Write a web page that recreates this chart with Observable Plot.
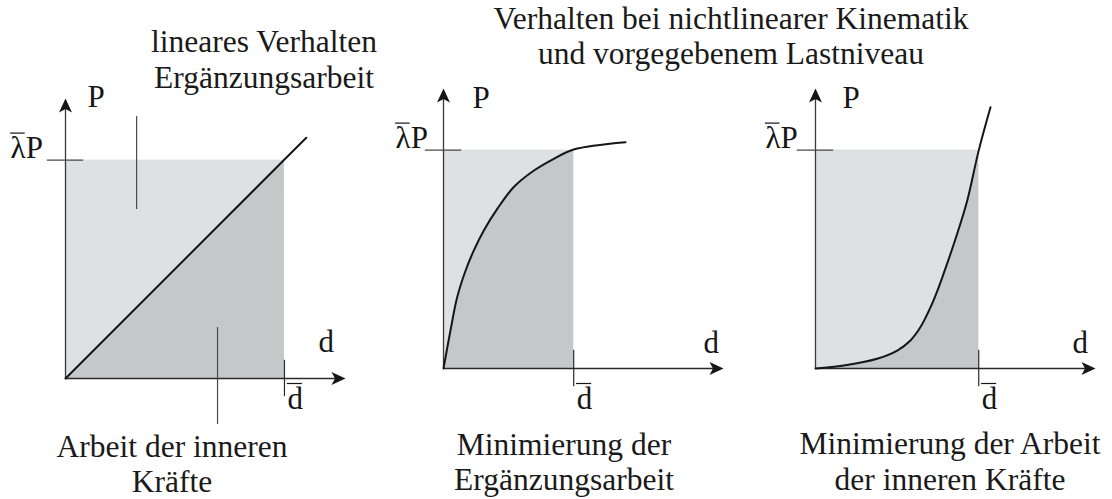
<!DOCTYPE html>
<html>
<head>
<meta charset="utf-8">
<script src="https://cdn.jsdelivr.net/npm/d3@7"></script>
<script src="https://cdn.jsdelivr.net/npm/@observablehq/plot@0.6"></script>
<style>
  html, body { margin: 0; padding: 0; background: #fff; }
  #wrap { position: relative; width: 1112px; height: 499px; overflow: hidden; font-family: "Liberation Serif", "Times New Roman", serif; color: #1a1a1a; }
  .panel { position: absolute; top: 0; }
  .lbl { position: absolute; font-size: 31.5px; white-space: nowrap; text-align: center; transform: translateX(-50%); }
</style>
</head>
<body>
<div id="wrap"></div>
<script>
// ---- data (d and P in units of one tenth of the axis length) ----
const lamP = 7.8;                       // load level  λ̄P
const dBar = [7.82, 4.65, 5.83];        // displacement d̄ for each panel

const linD = [0, 7.82, 8.6];
const linP = [0, 7.82, 8.6];

const softD = [0, 0.25, 0.49, 0.79, 1.08, 1.44, 1.92, 2.51, 3.23, 3.94, 4.65, 6.5];
const softP = [0, 1.36, 2.55, 3.50, 4.21, 4.93, 5.70, 6.48, 7.07, 7.49, 7.82, 8.08];

const stiffD = [0, 1.01, 2.20, 2.92, 3.39, 3.75, 4.11, 4.40, 4.70, 5.06, 5.42, 5.83, 6.25];
const stiffP = [0, 0.11, 0.35, 0.64, 1.00, 1.48, 2.19, 2.90, 3.74, 4.81, 6.00, 7.79, 9.33];

const topTitles = [
  "lineares Verhalten<br>Ergänzungsarbeit",
  "Verhalten bei nichtlinearer Kinematik<br>und vorgegebenem Lastniveau"
];
const captions = [
  "Arbeit der inneren<br>Kräfte",
  "Minimierung der<br>Ergänzungsarbeit",
  "Minimierung der Arbeit<br>der inneren Kräfte"
];

// ---- styling ----
const LIGHT = "#dfe0e2", DARK = "#c6c7c9", INK = "#161616", GRAY = "#4a4a4a";
const FONT = "Liberation Serif";

const arrowUp = { draw(c) { c.moveTo(0, 0); c.lineTo(6.5, 14); c.lineTo(0, 10.5); c.lineTo(-6.5, 14); c.closePath(); } };
const arrowRight = { draw(c) { c.moveTo(0, 0); c.lineTo(-14, 6.5); c.lineTo(-10.5, 0); c.lineTo(-14, -6.5); c.closePath(); } };

function pts(ds, ps) { return ds.map((d, i) => ({d, P: ps[i]})); }

const panels = [
  {left: 0,   width: 371, ox: 65, oy: 378, data: pts(linD, linP),     curve: "linear",      dbar: dBar[0], pY: 9.68, pdx: 22, dX: 9.04, dY: 0.93, lamX: -1.96, dbDy: 30},
  {left: 371, width: 370, ox: 72, oy: 368, data: pts(softD, softP),   curve: "catmull-rom", dbar: dBar[1], pY: 9.32, pdx: 29, dX: 9.29, dY: 0.57, lamX: -1.71, dbDy: 40},
  {left: 741, width: 371, ox: 74, oy: 368, data: pts(stiffD, stiffP), curve: "catmull-rom", dbar: dBar[2], pY: 9.32, pdx: 27, dX: 9.18, dY: 0.57, lamX: -1.79, dbDy: 40}
];

const wrap = document.getElementById("wrap");
const txt = {textAnchor: "start", lineAnchor: "bottom", fontSize: 31, fontFamily: FONT, fill: INK};

panels.forEach((p, k) => {
  const under = p.data.filter(q => q.d <= p.dbar + 1e-9);
  const marks = [
    Plot.rect([p], {x1: 0, x2: d => d.dbar, y1: 0, y2: lamP, fill: LIGHT}),
    Plot.areaY(under, {x: "d", y: "P", fill: DARK, curve: p.curve}),
    // axes
    Plot.ruleY([0], {x1: 0, x2: 9.7, stroke: "#2a2a2a", strokeWidth: 1.3}),
    Plot.ruleX([0], {y1: 0, y2: 9.7, stroke: "#3a3a3a", strokeWidth: 1.3}),
    Plot.dot([0], {x: 10, y: 0, symbol: arrowRight, fill: INK, r: 5}),
    Plot.dot([0], {x: 0, y: 10, symbol: arrowUp, fill: INK, r: 5}),
    // ticks at λ̄P and d̄
    Plot.ruleY([lamP], {x1: -0.65, x2: 0.65, stroke: GRAY, strokeWidth: 1.2}),
    Plot.ruleX([p.dbar], {y1: -0.65, y2: 0.65, stroke: "#2a2a2a", strokeWidth: 1.2}),
    // curve
    Plot.line(p.data, {x: "d", y: "P", stroke: INK, strokeWidth: 2, curve: p.curve}),
    // labels
    Plot.text(["P"], {...txt, x: 0, y: p.pY, dx: p.pdx, text: d => d}),
    Plot.text(["\u03BBP"], {...txt, x: p.lamX, y: lamP, dy: -2, text: d => d}),
    Plot.ruleY([lamP], {x1: p.lamX, x2: p.lamX + 0.52, dy: -27, stroke: INK, strokeWidth: 1.2}),
    Plot.text(["d"], {...txt, x: p.dX, y: p.dY, text: d => d}),
    Plot.text(["d"], {...txt, x: p.dbar, y: 0, dx: 3, dy: p.dbDy, text: d => d}),
    Plot.ruleY([0], {x1: p.dbar + 0.1, x2: p.dbar + 0.64, dy: p.dbDy - 25, stroke: INK, strokeWidth: 1.2})
  ];
  if (k === 0) {
    marks.push(
      Plot.ruleX([2.54], {y1: 6.04, y2: 9.36, stroke: GRAY, strokeWidth: 1.2}),
      Plot.ruleX([5.43], {y1: -1.64, y2: 1.82, stroke: GRAY, strokeWidth: 1.2})
    );
  }
  const chart = Plot.plot({
    width: p.width,
    height: 499,
    x: {domain: [0, 10], range: [p.ox, p.ox + 280], axis: null},
    y: {domain: [0, 10], range: [p.oy, p.oy - 280], axis: null},
    style: {background: "transparent", overflow: "visible"},
    marks
  });
  const div = document.createElement("div");
  div.className = "panel";
  div.style.left = p.left + "px";
  div.appendChild(chart);
  wrap.appendChild(div);
});

// titles and captions (HTML text above/below the plots)
const textPos = [
  {html: topTitles[0], cx: 264, top: 24, lh: 36},
  {html: topTitles[1], cx: 731, top: 1,  lh: 35},
  {html: captions[0],  cx: 172, top: 429, lh: 35},
  {html: captions[1],  cx: 564, top: 427, lh: 35},
  {html: captions[2],  cx: 950, top: 426, lh: 36}
];
textPos.forEach(t => {
  const el = document.createElement("div");
  el.className = "lbl";
  el.innerHTML = t.html;
  el.style.left = t.cx + "px";
  el.style.top = t.top + "px";
  el.style.lineHeight = t.lh + "px";
  wrap.appendChild(el);
});
</script>
</body>
</html>
